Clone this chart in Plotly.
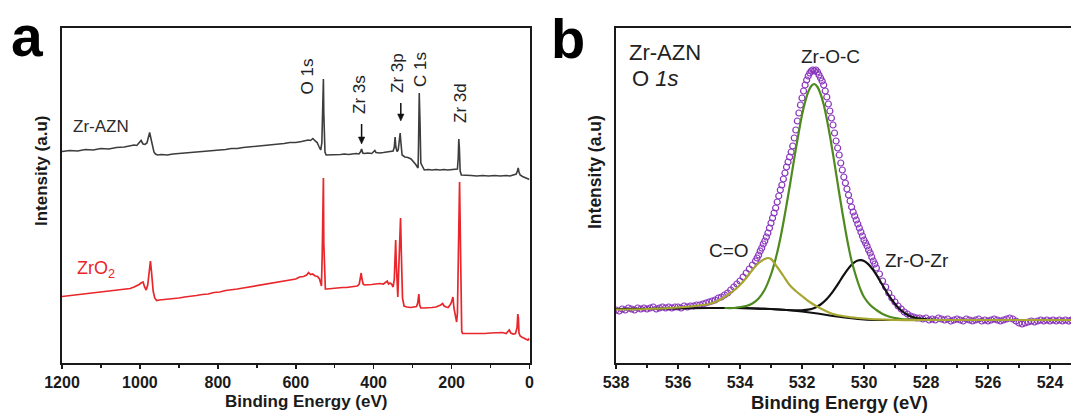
import numpy as np
import plotly.graph_objects as go

W, H = 1071, 417
FONT = "Arial, Liberation Sans, sans-serif"

# ---------------- Panel a: XPS survey spectra ----------------
azn_be = [1200, 1180, 1160, 1140, 1120, 1100, 1080, 1060, 1040, 1025, 1015, 1008, 1002, 997, 992, 987, 982, 978, 975, 972,
          968, 964, 960, 955, 945, 930, 915, 900, 885, 870, 855, 840, 825, 810, 795, 780, 765, 750, 735, 720,
          705, 690, 675, 660, 645, 630, 615, 600, 585, 575, 568, 562, 556, 550, 545, 540, 536, 533, 531, 530,
          529, 528, 527, 525, 522, 515, 505, 495, 485, 475, 465, 455, 445, 438, 434, 431, 428, 424, 415, 405,
          400, 397, 394, 385, 375, 365, 355, 350, 347, 345, 343, 340, 337, 334, 332, 330, 327, 320, 312, 304,
          298, 292, 288, 286, 285, 284, 283, 281, 279, 270, 260, 250, 240, 230, 220, 210, 200, 190, 185, 183,
          181.5, 180, 178, 175, 165, 150, 135, 120, 105, 90, 75, 60, 50, 40, 34, 31, 29, 27, 24, 18,
          12, 6, 0]
azn_int = [211.5, 212.5, 212, 213.5, 213, 214.5, 214, 215.5, 216, 217, 218, 217.5, 220, 222.5, 219, 218.5, 220, 226, 230.5, 225,
           216, 211, 209, 208, 208.5, 208, 209, 209.5, 209.5, 210.5, 210.5, 211.5, 212, 212.5, 213, 213.5, 214.5, 214.5, 215.5, 216,
           216.5, 217, 218, 218, 219, 219.5, 220.5, 220.5, 221.5, 222, 223, 222.5, 224.5, 222, 220.5, 216, 213, 220, 250, 275,
           284, 250, 225, 211, 208, 208, 208.5, 208, 208.5, 209, 208.5, 209, 209.5, 209, 211, 214, 210, 209.5, 210, 209.5,
           211, 212.5, 210.5, 210, 210.5, 211, 211, 212, 216, 226, 216, 211.5, 213, 222, 230, 220, 208, 206, 205.5, 204,
           201.5, 198.5, 196, 195, 215, 250, 270, 240, 200, 193, 193.5, 193, 193.5, 193, 193.5, 193, 193.5, 193.5, 194, 205,
           224, 215, 192, 188, 187.5, 187.5, 187, 187.5, 187, 187.5, 187, 187.5, 187, 188, 189, 192, 195, 191, 188, 186.5,
           185.5, 184.5, 183.5]

zro2_be = [1200, 1180, 1160, 1140, 1120, 1100, 1080, 1060, 1040, 1025, 1015, 1008, 1002, 997, 992, 988, 984, 980, 976, 973,
           970, 966, 962, 957, 950, 935, 920, 900, 885, 870, 855, 840, 825, 810, 795, 780, 765, 750, 735, 720,
           705, 690, 675, 660, 645, 630, 615, 600, 590, 580, 572, 567, 562, 557, 550, 544, 539, 536, 534, 532,
           530, 529, 528, 526, 524, 520, 510, 500, 490, 480, 470, 460, 450, 442, 437, 434, 432, 430, 427, 424,
           415, 405, 395, 385, 375, 368, 365, 362, 358, 354, 350, 347, 345, 343.5, 342, 340, 338, 336, 333, 331,
           329, 326, 322, 315, 305, 295, 290, 287, 285, 284, 282, 279, 270, 260, 250, 240, 232, 228, 223, 219,
           214, 209, 204, 201, 198, 196.5, 194, 190, 187, 185, 183, 181, 179.5, 178, 176, 174, 172, 160, 145, 130,
           115, 100, 85, 70, 60, 55, 52, 48, 42, 36, 32, 30, 28.5, 27, 24, 20, 15, 10, 5, 2,
           0]
zro2_int = [66.5, 67.5, 68.5, 69, 70, 71, 72, 73, 74, 74.5, 76, 77, 78.5, 80, 81, 76, 73, 78, 90, 102,
            90, 72, 65, 62.5, 63, 63.5, 64.5, 65, 66, 66.5, 67.5, 68.5, 69, 70.5, 71, 72.5, 73, 74, 75, 76,
            77, 77.5, 78.5, 79.5, 80.5, 81.5, 82.5, 84, 86, 86.5, 88, 90.5, 88.5, 89, 87, 86.5, 84, 79, 77, 110,
            185, 185, 120, 76, 74, 74, 74.5, 74.5, 75, 75.5, 75.5, 76, 76.5, 77, 79, 86, 90, 84, 79, 78,
            78, 78.5, 79, 79.5, 79, 80.5, 82, 79, 80, 79, 76, 84, 110, 123, 100, 72, 66, 90, 130, 145,
            110, 65, 57, 56, 55.5, 56, 56.5, 60, 67, 69, 58, 55, 55, 55, 55.5, 56, 57, 58, 59.5, 57,
            56, 55.5, 58, 60, 64, 66, 55, 44, 41, 50, 95, 165, 181, 140, 70, 32, 29.5, 29.5, 29, 29.5,
            29.5, 30, 30, 30.5, 29.5, 32, 33, 30, 29, 29.5, 35, 49, 45, 30, 27, 26, 25, 24, 23, 24,
            22.5]

# ---------------- Panel b: O 1s high resolution ----------------
# measured points (three sampling segments)
o1s_a_start, o1s_a_step = 538.0, 0.1
o1s_a = [53, 52, 54, 53, 55, 54, 53, 55, 54, 55, 54, 55, 56, 54, 55, 56, 55, 56, 55, 56,
         56, 55, 57, 56, 57, 57, 58, 58, 59, 60, 61, 62, 63, 65, 66, 68, 70, 73, 76, 79,
         82, 86, 90, 94, 98, 102]
o1s_b_start, o1s_b_step = 533.45, 0.05
o1s_b = [105, 108, 112, 115, 119, 122, 126, 130, 135, 140, 145, 150, 155, 161, 167, 173, 178, 184, 190, 196,
         201, 206, 211, 217, 225, 233, 242, 250, 258, 265, 272, 278, 283, 287, 290, 292, 293, 292, 293, 291,
         288, 285, 282, 278, 272, 266, 259, 252, 245, 238, 230, 222, 215, 208, 200, 193, 186, 180, 174, 168,
         162, 156, 151, 147, 143, 139, 135, 131, 127, 123, 120, 117, 113, 110, 106, 102, 99, 95]
o1s_c_start, o1s_c_step = 529.5, 0.1
o1s_c = [89, 82, 76, 70, 65, 61, 57, 54, 51, 49, 47, 46, 45, 45, 44, 45, 43, 44, 43, 45,
         44, 43, 44, 42, 43, 44, 43, 42, 44, 43, 42, 43, 44, 42, 43, 42, 43, 44, 43, 42,
         43, 44, 45, 44, 42, 40, 39, 40, 41, 42, 41, 42, 43, 42, 43, 42, 43, 42, 43, 42,
         43, 42, 43]

# fitted curves
bg_be = [538, 537, 536, 535, 534.5, 534, 533.5, 533, 532.5, 532, 531.5, 531, 530.5, 530, 529.5, 529, 528, 527, 526, 525, 524, 523.3]
bg_int = [54, 54.3, 54.6, 55, 55, 55, 54.5, 54, 53, 51.5, 49.5, 47, 45, 43.5, 43, 43, 43, 43, 43, 43, 43, 43]

co_be = [538, 537, 536, 535.6, 535.2, 535.0, 534.8, 534.6, 534.4, 534.2, 534.0, 533.8, 533.6, 533.4, 533.2, 533.1, 533.0, 532.8, 532.6, 532.4,
         532.2, 532.0, 531.8, 531.6, 531.4, 531.2, 531.0, 530.6, 530.2, 529.8, 529.4, 529.0, 528, 527, 526, 525, 524, 523.3]
co_int = [53.5, 54, 55.5, 56.5, 58, 59, 61, 64, 68, 72.5, 78, 85, 93, 100, 104, 105, 104, 96, 87, 78,
          72, 67, 62, 58, 54.5, 51.5, 49, 46.5, 45, 44, 43.5, 43, 43, 43, 43, 43, 43, 43]

zoc_be = [534.5, 534.2, 534.0, 533.8, 533.6, 533.4, 533.2, 533.0, 532.9, 532.8, 532.7, 532.6, 532.5, 532.4, 532.3, 532.2, 532.1, 532.0,
          531.9, 531.8, 531.7, 531.6, 531.5, 531.4, 531.3, 531.2, 531.1, 531.0, 530.9, 530.8, 530.7, 530.6, 530.5, 530.4, 530.3,
          530.2, 530.1, 530.0, 529.8, 529.6, 529.4, 529.2, 529.0, 528.8, 528.5, 528.0]
zoc_int = [55, 55, 56, 57, 59.5, 64.5, 73.5, 88.5, 98.5, 110.5, 124.5, 140.5, 158, 176, 195, 214, 231.5, 248,
           261, 271, 277, 279, 276, 269, 258.5, 244, 227.5, 209, 189.5, 170, 151, 133, 116.5, 102, 91,
           81, 72.5, 66, 58, 53, 49, 46.5, 45, 44, 43.5, 43]

zoz_be = [534.2, 533.5, 533.0, 532.5, 532.0, 531.8, 531.6, 531.4, 531.2, 531.0, 530.9, 530.8, 530.7, 530.6, 530.5, 530.4, 530.3, 530.2, 530.1,
          530.0, 529.9, 529.8, 529.7, 529.6, 529.5, 529.4, 529.3, 529.2, 529.1, 529.0, 528.9, 528.8, 528.6, 528.4, 528.2, 528.0, 527.6]
zoz_int = [55, 54.5, 54, 53, 52.7, 53.3, 55.1, 58.5, 64, 71.6, 76.1, 80.9, 85.8, 90.4, 94.6, 98.2, 100.9, 102.5, 102.8,
           101.9, 99.9, 96.8, 92.8, 88.1, 83, 77.7, 72.5, 67.6, 63, 59, 55.4, 52.5, 48.2, 45.6, 44.3, 43.6, 43]

assert len(azn_be) == len(azn_int) and len(zro2_be) == len(zro2_int)
assert len(co_be) == len(co_int) and len(zoc_be) == len(zoc_int) and len(zoz_be) == len(zoz_int)


def grid(start, step, vals):
    return list(np.round(start - step * np.arange(len(vals)), 2))


o1s_be = grid(o1s_a_start, o1s_a_step, o1s_a) + grid(o1s_b_start, o1s_b_step, o1s_b) + grid(o1s_c_start, o1s_c_step, o1s_c)
o1s_int = o1s_a + o1s_b + o1s_c

# ---------------- Figure ----------------
def px(x):
    return x / W


def py(y):
    return 1 - y / H


AX = "#1a1a1a"
ydom = [py(363), py(28)]

fig = go.Figure()
fig.add_trace(go.Scatter(x=azn_be, y=azn_int, mode="lines", line=dict(color="#3d3d3d", width=1.6),
                         xaxis="x", yaxis="y", showlegend=False, hoverinfo="skip"))
fig.add_trace(go.Scatter(x=zro2_be, y=zro2_int, mode="lines", line=dict(color="#e8262b", width=1.7),
                         xaxis="x", yaxis="y", showlegend=False, hoverinfo="skip"))

fig.add_trace(go.Scatter(x=o1s_be, y=o1s_int, mode="markers",
                         marker=dict(symbol="circle-open", size=6, color="#8a35bd", line=dict(width=1.2, color="#8a35bd")),
                         xaxis="x2", yaxis="y2", showlegend=False, hoverinfo="skip"))
fig.add_trace(go.Scatter(x=bg_be, y=bg_int, mode="lines", line=dict(color="#111111", width=2, shape="spline"),
                         xaxis="x2", yaxis="y2", showlegend=False, hoverinfo="skip"))
fig.add_trace(go.Scatter(x=zoz_be, y=zoz_int, mode="lines", line=dict(color="#111111", width=2.2, shape="spline"),
                         xaxis="x2", yaxis="y2", showlegend=False, hoverinfo="skip"))
fig.add_trace(go.Scatter(x=zoc_be, y=zoc_int, mode="lines", line=dict(color="#4e8a1e", width=2.2, shape="spline"),
                         xaxis="x2", yaxis="y2", showlegend=False, hoverinfo="skip"))
fig.add_trace(go.Scatter(x=co_be, y=co_int, mode="lines", line=dict(color="#a6a630", width=2.2, shape="spline"),
                         xaxis="x2", yaxis="y2", showlegend=False, hoverinfo="skip"))

tickfont = dict(family=FONT, size=16, color=AX, weight="bold")
common_x = dict(showline=True, linewidth=2, linecolor=AX, mirror=True, ticks="outside", ticklen=4, tickwidth=1.5,
                tickcolor=AX, tickfont=tickfont, showgrid=False, zeroline=False, automargin=False)
common_y = dict(showline=True, linewidth=2, linecolor=AX, showticklabels=False, ticks="", showgrid=False,
                zeroline=False, range=[0, 335], domain=ydom, automargin=False)

# label arrows (Zr 3s, Zr 3p) as shapes in page pixels
shapes = []
for xa, ytail, ytip in [(361.6, 124, 144), (400.8, 103, 121)]:
    shapes.append(dict(type="line", xref="paper", yref="paper", x0=px(xa), x1=px(xa), y0=py(ytail), y1=py(ytip - 5),
                       line=dict(color="#111", width=1.5)))
    shapes.append(dict(type="path", xref="paper", yref="paper",
                       path=f"M {px(xa - 3.2)} {py(ytip - 7)} L {px(xa + 3.2)} {py(ytip - 7)} L {px(xa)} {py(ytip)} Z",
                       fillcolor="#111", line=dict(color="#111", width=0.5)))

fig.update_layout(
    width=W, height=H, autosize=False,
    margin=dict(l=0, r=0, t=0, b=0, pad=0, autoexpand=False),
    paper_bgcolor="white", plot_bgcolor="white",
    font=dict(family=FONT, color=AX),
    xaxis=dict(common_x, domain=[px(62), px(529.5)], range=[1200, 0], dtick=200, tick0=0,
               minor=dict(ticks="outside", ticklen=3, dtick=100, tickcolor=AX, tickwidth=1.5), anchor="y"),
    yaxis=dict(common_y, mirror=True, anchor="x"),
    xaxis2=dict(common_x, domain=[px(616), 1.0], range=[538, 538 - (W - 616) / 31.0], dtick=2, tick0=0,
                minor=dict(ticks="outside", ticklen=3, dtick=1, tickcolor=AX, tickwidth=1.5), anchor="y2"),
    yaxis2=dict(common_y, mirror=False, anchor="x2"),
    shapes=shapes,
)

ann = []


def text(t, x, y, size, color=AX, bold=False, angle=0, xanchor="center", yanchor="middle"):
    ann.append(dict(text=t, x=px(x), y=py(y), xref="paper", yref="paper", showarrow=False,
                    textangle=angle, xanchor=xanchor, yanchor=yanchor,
                    font=dict(family=FONT, size=size, color=color, weight="bold" if bold else "normal")))


# panel letters
text("a", 27, 35.5, 57, color="#000", bold=True)
text("b", 568, 39, 56, color="#000", bold=True)

# panel a labels
text("Zr-AZN", 71, 126.5, 17, color="#2b2b2b", xanchor="left")
text("ZrO<sub>2</sub>", 75, 269, 18, color="#e8262b", xanchor="left")
text("O 1s", 307, 76.5, 17, color="#222", angle=-90)
text("Zr 3s", 359, 95, 17, color="#222", angle=-90)
text("Zr 3p", 397, 73, 17, color="#222", angle=-90)
text("C 1s", 420, 70, 17, color="#222", angle=-90)
text("Zr 3d", 460, 103, 17, color="#222", angle=-90)

# panel b labels
text("Zr-AZN", 627, 52.5, 22, color="#222", xanchor="left")
text("O <i>1s</i>", 630, 79, 22, color="#222", xanchor="left")
text("Zr-O-C", 830, 56.5, 19, color="#222")
text("C=O", 729, 250, 19, color="#222")
text("Zr-O-Zr", 917, 260, 19, color="#222")

# axis titles
text("Intensity (a.u)", 41, 171, 17, bold=True, angle=-90)
text("Binding Energy (eV)", 305.5, 401, 17, bold=True)
text("Intensity (a.u)", 595, 172, 17.5, bold=True, angle=-90)
text("Binding Energy (eV)", 839, 402, 18.5, bold=True)

fig.update_layout(annotations=ann)
fig.write_html(
    "out.html",
    config={"displayModeBar": False, "staticPlot": True},
    post_script="document.documentElement.style.margin='0';document.body.style.margin='0';"
                "document.documentElement.style.overflow='hidden';document.body.style.overflow='hidden';",
)
